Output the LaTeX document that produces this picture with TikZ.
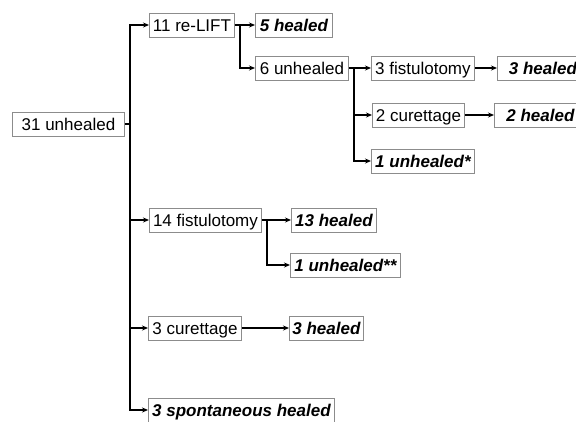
\documentclass[tikz,border=0pt]{standalone}
\usepackage{fontspec}
\setmainfont{Liberation Sans}
\usetikzlibrary{arrows.meta}
\begin{document}
\begin{tikzpicture}[x=1pt,y=-1pt,
  box/.style={draw=black!45,line width=0.9pt,anchor=west,minimum height=24pt,inner sep=0pt,
    text height=12.2pt,text depth=0pt,font=\fontsize{17}{20}\selectfont},
  res/.style={box,font=\fontsize{17}{20}\selectfont\bfseries\itshape},
  arr/.style={line width=1.3pt,-{Stealth[length=6pt,width=5pt]}},
  ln/.style={line width=1.3pt}]
\clip (0,0) rectangle (576,421);
\fill[white] (0,0) rectangle (576,421);
% nodes
\node[box,minimum width=112pt] (A) at (12,124) {31 unhealed};
\node[box,minimum width=85pt] (B) at (149,25) {11 re-LIFT};
\node[res,minimum width=77pt] (C) at (255,25) {5 healed};
\node[box,minimum width=93pt] (D) at (255,68) {6 unhealed};
\node[box,minimum width=103pt] (E) at (371,68) {3 fistulotomy};
\node[res,minimum width=91pt] (F) at (497,68) {3 healed};
\node[box,minimum width=92pt] (G) at (372,115) {2 curettage};
\node[res,minimum width=92pt] (H) at (494,115) {2 healed};
\node[res,minimum width=103pt] (I) at (371,161) {1 unhealed*};
\node[box,minimum width=112pt] (J) at (149,220) {14 fistulotomy};
\node[res,minimum width=85pt] (K) at (291,220) {13 healed};
\node[res,minimum width=110pt] (L) at (290,265) {1 unhealed**};
\node[box,minimum width=93pt] (M) at (148,328) {3 curettage};
\node[res,minimum width=74pt] (N) at (289,328) {3 healed};
\node[res,minimum width=186pt] (O) at (148,410) {3 spontaneous healed};
% trunk
\coordinate (t) at (130,124);
\draw[ln] (A.east) -- (t);
\draw[arr] (t) |- (B.west);
\draw[arr] (t) |- (J.west);
\draw[arr] (t) |- (M.west);
\draw[arr] (t) |- (O.west);
% re-LIFT branch
\coordinate (b) at (240,25);
\draw[arr] (B.east) -- (C.west);
\draw[arr] (b) |- (D.west);
% 6 unhealed branch
\coordinate (d) at (354,68);
\draw[arr] (D.east) -- (E.west);
\draw[arr] (d) |- (G.west);
\draw[arr] (d) |- (I.west);
\draw[arr] (E.east) -- (F.west);
\draw[arr] (G.east) -- (H.west);
% fistulotomy branch
\coordinate (f) at (267,220);
\draw[arr] (J.east) -- (K.west);
\draw[arr] (f) |- (L.west);
\draw[arr] (M.east) -- (N.west);
\end{tikzpicture}
\end{document}
